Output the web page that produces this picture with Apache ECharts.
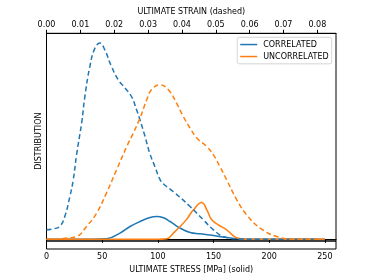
<!DOCTYPE html>
<html>
<head>
<meta charset="utf-8">
<script src="https://cdn.jsdelivr.net/npm/echarts@6/dist/echarts.min.js"></script>
<style>html,body{margin:0;padding:0;background:#fff;}#c{width:374px;height:280px;}</style>
</head>
<body>
<div id="c"></div>
<script>
// Dashed curves (top axis: ultimate strain)
var strainCorr = [0, 0.002, 0.0039, 0.0054, 0.0069, 0.0079, 0.0089, 0.0104, 0.0113, 0.0128, 0.0143, 0.0158, 0.0172, 0.0192, 0.0212, 0.0232, 0.0251, 0.0266, 0.0276, 0.0291, 0.0305, 0.032, 0.0335, 0.0345, 0.0374, 0.0424, 0.0463, 0.0493, 0.0522, 0.0572, 0.063, 0.07, 0.08];
var distStrainCorr = [9.5, 10.5, 12.8, 22.8, 42.8, 59.5, 85, 117, 142, 172.8, 191.2, 196.2, 189.5, 172.8, 159.5, 151.2, 142.8, 129.5, 119.5, 102.8, 86, 72.8, 60, 55.5, 47.8, 32.8, 19.5, 9.5, 2.8, 0.3, 0, 0, 0];
var strainUnc = [0, 0.003, 0.0054, 0.0089, 0.0118, 0.0148, 0.0177, 0.0207, 0.0237, 0.0256, 0.0276, 0.0296, 0.031, 0.0335, 0.036, 0.0384, 0.0404, 0.0424, 0.0444, 0.0473, 0.0493, 0.0512, 0.0532, 0.0562, 0.0591, 0.0631, 0.068, 0.0734, 0.08];
var distStrainUnc = [0, 0, 1, 2.8, 12.8, 26.2, 46.2, 69.5, 92.8, 106, 121.2, 139.5, 149.5, 154.5, 149.5, 136.2, 122.8, 111.2, 101.2, 92.8, 84.5, 72.8, 59.5, 39.5, 24.5, 11.2, 2.8, 0, 0];
// Solid curves (bottom axis: ultimate stress)
var stressCorr = [0, 40, 54, 66, 75, 84, 93, 99, 105, 111, 120, 129, 138, 147, 162, 174, 190, 250];
var distStressCorr = [0, 0, 0.5, 6.2, 12.8, 17.8, 21.8, 22.8, 21.5, 17.8, 11.2, 6.8, 5.5, 4.2, 1.8, 0.3, 0, 0];
var stressUnc = [0, 100, 108, 114, 120, 126, 132, 139.4, 144, 148.4, 154.3, 161.8, 167.8, 172.3, 178, 190, 250];
var distStressUnc = [0, 0, 0.5, 6.2, 12.8, 20.2, 29.5, 36.8, 29.5, 19.5, 14.5, 9.5, 3.5, 1, 0, 0, 0];
var stressTicks = [0, 50, 100, 150, 200, 250];
var strainTicks = [0, 0.01, 0.02, 0.03, 0.04, 0.05, 0.06, 0.07, 0.08];
var seriesNames = ['CORRELATED', 'UNCORRELATED'];

function pairs(xs, ys) { return xs.map(function (x, i) { return [x, ys[i]]; }); }
var BLUE = '#1f77b4', ORANGE = '#ff7f0e';
var FONT = 'DejaVu Sans';
var FS = 8;
var chart = echarts.init(document.getElementById('c'), null, { renderer: 'canvas' });
var dash = [5, 3];
chart.setOption({
  animation: false,
  backgroundColor: '#fff',
  textStyle: { fontFamily: FONT },
  grid: { left: 46.5, right: 38, top: 33.3, bottom: 31, show: true, borderColor: '#000', borderWidth: 1, backgroundColor: 'transparent' },
  legend: {
    data: [{ name: seriesNames[0], icon: 'rect' }, { name: seriesNames[1], icon: 'rect' }],
    orient: 'vertical', right: 42.3, top: 37.3,
    itemWidth: 17, itemHeight: 1.5, itemGap: 3.5,
    padding: [3, 3, 3, 3],
    borderColor: '#cccccc', borderWidth: 0.8, borderRadius: 2, backgroundColor: 'rgba(255,255,255,0.8)',
    textStyle: { fontFamily: FONT, fontSize: FS, color: '#000', lineHeight: 8.5, padding: [0, 0, 0, 1] }
  },
  xAxis: [
    {
      type: 'value', position: 'bottom', min: 0, max: 260,
      name: 'ULTIMATE STRESS [MPa] (solid)', nameLocation: 'middle', nameGap: 16,
      nameTextStyle: { fontFamily: FONT, fontSize: FS, color: '#000' },
      axisLine: { show: true, lineStyle: { color: '#000', width: 1 } },
      axisTick: { show: true, length: 3.5, lineStyle: { color: '#000' }, customValues: stressTicks },
      axisLabel: { fontFamily: FONT, fontSize: FS, color: '#000', margin: 4, customValues: stressTicks },
      splitLine: { show: false }
    },
    {
      type: 'value', position: 'top', min: 0, max: 0.0855,
      name: 'ULTIMATE STRAIN (dashed)', nameLocation: 'middle', nameGap: 15,
      nameTextStyle: { fontFamily: FONT, fontSize: FS, color: '#000' },
      axisLine: { show: true, lineStyle: { color: '#000', width: 1 } },
      axisTick: { show: true, length: 3.5, lineStyle: { color: '#000' }, customValues: strainTicks },
      axisLabel: { fontFamily: FONT, fontSize: FS, color: '#000', margin: 4, customValues: strainTicks,
        formatter: function (v) { return v.toFixed(2); } },
      splitLine: { show: false }
    }
  ],
  yAxis: {
    type: 'value', min: -9.7, max: 206,
    name: 'DISTRIBUTION', nameLocation: 'middle', nameGap: 4, nameRotate: 90,
    nameTextStyle: { fontFamily: FONT, fontSize: FS, color: '#000', verticalAlign: 'bottom' },
    axisLine: { show: false }, axisTick: { show: false }, axisLabel: { show: false }, splitLine: { show: false }
  },
  series: [
    { name: seriesNames[0], type: 'line', xAxisIndex: 0, data: pairs(stressCorr, distStressCorr), showSymbol: false, symbol: 'none',
      smooth: 0.45, lineStyle: { color: BLUE, width: 1.5 }, itemStyle: { color: BLUE }, z: 3 },
    { name: seriesNames[1], type: 'line', xAxisIndex: 0, data: pairs(stressUnc, distStressUnc), showSymbol: false, symbol: 'none',
      smooth: 0.45, lineStyle: { color: ORANGE, width: 1.5 }, itemStyle: { color: ORANGE }, z: 3 },
    { name: 'corr-strain', type: 'line', xAxisIndex: 1, data: pairs(strainCorr, distStrainCorr), showSymbol: false, symbol: 'none',
      smooth: 0.45, lineStyle: { color: BLUE, width: 1.5, type: dash }, itemStyle: { color: BLUE }, z: 3 },
    { name: 'unc-strain', type: 'line', xAxisIndex: 1, data: pairs(strainUnc, distStrainUnc), showSymbol: false, symbol: 'none',
      smooth: 0.45, lineStyle: { color: ORANGE, width: 1.5, type: dash }, itemStyle: { color: ORANGE }, z: 3,
      markLine: { silent: true, symbol: 'none', label: { show: false },
        lineStyle: { color: '#000', width: 1.5, type: 'solid' }, data: [{ yAxis: -1.5 }] } }
  ]
});
</script>
</body>
</html>
